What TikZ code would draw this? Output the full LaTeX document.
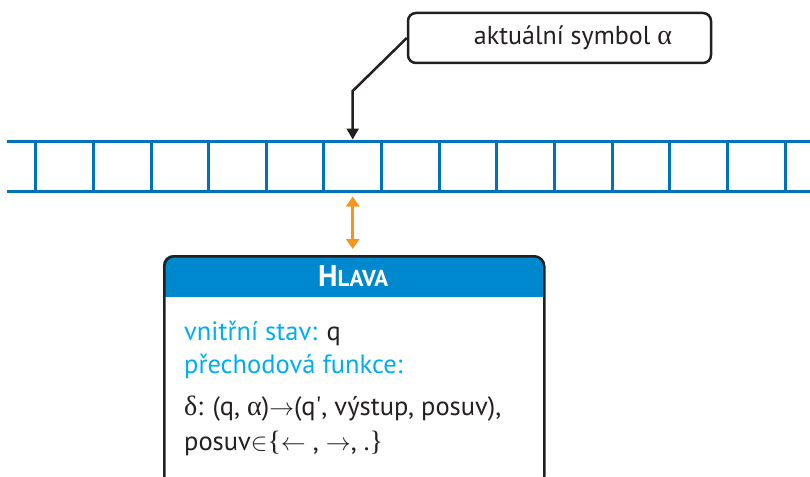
\documentclass[tikz,border=0pt]{standalone}
\usepackage{fontspec}
\setmainfont{PT Sans}
\newfontfamily\grk{Liberation Serif}
\usetikzlibrary{arrows.meta}
\definecolor{ink}{HTML}{231F20}
\definecolor{tapeblue}{HTML}{0072BC}
\definecolor{hdrblue}{HTML}{0088CE}
\definecolor{cyantext}{HTML}{00AEEF}
\definecolor{orangearr}{HTML}{F7941D}
\tikzset{
  tapeline/.style={draw=tapeblue, line width=3pt},
  callbox/.style={draw=ink, line width=2.5pt, rounded corners=8pt, minimum width=303pt, minimum height=50pt, inner sep=0pt, text=ink, font=\fontsize{26}{26}\selectfont},
  ptr/.style={draw=ink, line width=2.5pt, -{Triangle[length=11pt,width=12pt]}},
  link/.style={draw=orangearr, line width=2.5pt, {Triangle[length=10pt,width=13pt]}-{Triangle[length=10pt,width=13pt]}},
  hbox/.style={draw=ink, line width=2.5pt, rounded corners=10pt, minimum width=380pt, minimum height=230pt, inner sep=0pt, anchor=north west},
  htitle/.style={fill=hdrblue, minimum width=382pt, minimum height=43pt, inner sep=0pt, anchor=north west, text=white},
  bodytxt/.style={anchor=base west, inner sep=0pt, font=\fontsize{26.5}{26.5}\selectfont},
}
\newcommand{\smsym}[1]{{\fontsize{23}{23}\selectfont$#1$}}
\newcommand{\gk}[1]{{\grk\fontsize{28}{28}\selectfont #1}}
\newcommand{\sq}{\XeTeXglyph\XeTeXglyphindex "quotesingle"\relax}
\begin{document}
\begin{tikzpicture}[x=1pt,y=-1pt]
\useasboundingbox (0,0) rectangle (810,476);
\clip (0,0) rectangle (810,476);
% tape
\draw[tapeline] (7,141) -- (812,141);
\draw[tapeline] (7,191) -- (812,191);
\foreach \k in {0,...,13} {
  \draw[tapeline] (35.7+57.65*\k,141) -- (35.7+57.65*\k,191);
}
\coordinate (celltop) at (352.7,139.5);
\coordinate (cellbot) at (352.7,196.5);
% callout
\node[callbox] (callout) at (559.5,38) {\hspace*{27pt}aktuální symbol \gk{α}};
\draw[ptr] (callout.west) -- (celltop |- 0,91) -- (celltop);
% head box
\begin{scope}
  \clip[rounded corners=10pt] (163,255) rectangle (543,490);
  \node[htitle] (title) at (162,254) {\bfseries\fontsize{30}{30}\selectfont H\fontsize{23}{23}\selectfont LAVA};
\end{scope}
\node[hbox] (hlava) at (163,255) {};
\draw[link] (cellbot) -- (cellbot |- 0,249);
% texts
\node[bodytxt] (l1) at (184,340) {\textcolor{cyantext}{vnitřní stav:} \textcolor{ink}{q}};
\node[bodytxt, text=cyantext] (l2) at (184,373) {přechodová funkce:};
\node[bodytxt, text=ink] (l3) at (184,415) {\gk{δ}: (q, \gk{α})\smsym{\rightarrow}(q\sq, výstup, posuv),};
\node[bodytxt, text=ink] (l4) at (184,450) {posuv\smsym{\in}\gk{\{}\smsym{\leftarrow}\ , \smsym{\rightarrow}, .\gk{\}}};
\end{tikzpicture}
\end{document}
